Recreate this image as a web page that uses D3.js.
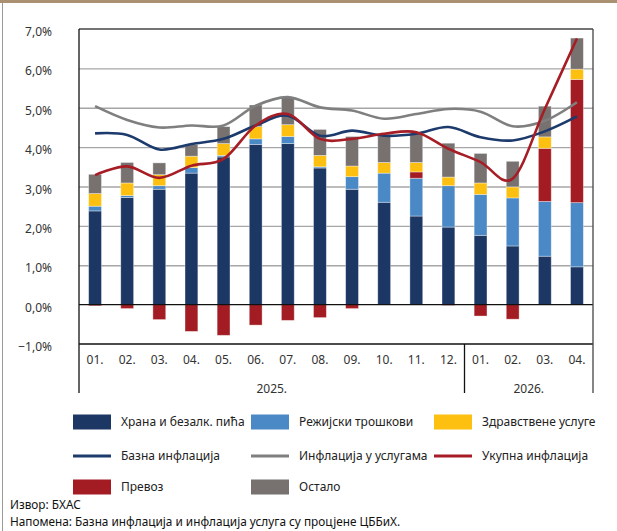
<!DOCTYPE html>
<html>
  <head>
    <meta charset="utf-8">
    <title>Инфлација по компонентама</title>
    <script src="https://d3js.org/d3.v7.min.js"></script>
    <style>
      body { margin: 0; background: #fff; }
      svg text { font-family: "Noto Sans", "DejaVu Sans", sans-serif; fill: #333; }
      .tick text { font-size: 12px; }
      .legend text { font-size: 12px; fill: #222; }
      .note { font-size: 11.8px; fill: #111; }
    </style>
  </head>
  <body>
    <script>
      var width = 617;
      var height = 531;
      var margin = {top: 29, left: 79, right: 24, bottom: 187};

      // data (percentage points)
      var months = ["01.","02.","03.","04.","05.","06.","07.","08.","09.","10.","11.","12.","01.","02.","03.","04."];
      var years = [{label: "2025.", count: 12}, {label: "2026.", count: 4}];
      var food      = [2.38, 2.72, 2.93, 3.34, 3.75, 4.07, 4.09, 3.47, 2.93, 2.60, 2.25, 1.97, 1.76, 1.49, 1.23, 0.96];
      var utilities = [0.12, 0.05, 0.09, 0.14, 0.04, 0.14, 0.18, 0.03, 0.32, 0.74, 0.96, 1.05, 1.04, 1.22, 1.39, 1.63];
      var transport = [-0.03, -0.10, -0.38, -0.68, -0.78, -0.52, -0.40, -0.33, -0.10, 0.00, 0.16, -0.02, -0.29, -0.37, 1.35, 3.13];
      var health    = [0.32, 0.32, 0.28, 0.29, 0.30, 0.31, 0.30, 0.29, 0.27, 0.27, 0.24, 0.22, 0.29, 0.28, 0.29, 0.26];
      var other     = [0.49, 0.52, 0.30, 0.30, 0.43, 0.55, 0.70, 0.66, 0.75, 0.67, 0.73, 0.86, 0.75, 0.65, 0.78, 0.79];
      var core      = [4.35, 4.31, 3.94, 4.08, 4.21, 4.55, 4.80, 4.29, 4.42, 4.29, 4.34, 4.51, 4.25, 4.17, 4.40, 4.78];
      var services  = [5.04, 4.69, 4.50, 4.55, 4.55, 5.05, 5.27, 5.01, 4.93, 4.72, 4.84, 4.97, 4.90, 4.53, 4.67, 5.14];
      var total     = [3.29, 3.51, 3.22, 3.53, 3.70, 4.55, 4.84, 4.21, 4.21, 4.34, 4.38, 3.96, 3.62, 3.20, 4.97, 6.76];
      var yTicks = [-1, 0, 1, 2, 3, 4, 5, 6, 7];

      var barSeries = [
        {key: "food", name: "Храна и безалк. пића", values: food, color: "#1c3764"},
        {key: "utilities", name: "Режијски трошкови", values: utilities, color: "#4a89c5"},
        {key: "transport", name: "Превоз", values: transport, color: "#a31c24"},
        {key: "health", name: "Здравствене услуге", values: health, color: "#fdc010"},
        {key: "other", name: "Остало", values: other, color: "#777270"}
      ];
      var lineSeries = [
        {name: "Инфлација у услугама", values: services, color: "#7f7f7f"},
        {name: "Базна инфлација", values: core, color: "#1c3a6c"},
        {name: "Укупна инфлација", values: total, color: "#a71d25"}
      ];

      var svg = d3.select("body")
        .append("svg")
        .attr("width", width)
        .attr("height", height);

      // page decoration
      svg.append("rect").attr("x", 0).attr("y", 0).attr("width", width).attr("height", 3).attr("fill", "#a89070");
      svg.append("line").attr("x1", 2.5).attr("x2", 2.5).attr("y1", 3).attr("y2", height)
        .attr("stroke", "#999").attr("stroke-width", 1);

      var idx = d3.range(months.length);
      var xScale = d3.scaleBand()
        .domain(idx)
        .range([margin.left, width - margin.right])
        .paddingInner(0.6)
        .paddingOuter(0.3);

      var yScale = d3.scaleLinear()
        .domain([-1, 7])
        .range([344, margin.top]);

      // grid
      var grid = svg.append("g")
        .attr("transform", `translate(${margin.left},0)`)
        .call(d3.axisLeft(yScale).tickValues(yTicks.filter(function(t){ return t > -1 && t < 7 && t != 0; }))
          .tickSize(-(width - margin.left - margin.right)).tickFormat(""));
      grid.select(".domain").remove();
      grid.selectAll("line").attr("stroke", "#a6a6a6").attr("stroke-width", 1.3);

      // y labels
      var yAxis = svg.append("g")
        .attr("transform", `translate(${margin.left},0)`)
        .call(d3.axisLeft(yScale).tickValues(yTicks).tickSize(0).tickPadding(27)
          .tickFormat(function(d){ return d3.format(".1f")(d).replace(".", ",") + "%"; }));
      yAxis.select(".domain").remove();
      yAxis.selectAll("text").attr("dy", "0.55em").style("font-family", "Noto Sans");

      // stacked bars
      var table = idx.map(function(i) {
        var row = {i: i};
        barSeries.forEach(function(s){ row[s.key] = s.values[i]; });
        return row;
      });
      var stack = d3.stack()
        .keys(barSeries.map(function(s){ return s.key; }))
        .offset(d3.stackOffsetDiverging);
      var layers = stack(table);

      svg.append("g").selectAll("g")
        .data(layers)
        .join("g")
          .attr("fill", function(d, k){ return barSeries[k].color; })
        .selectAll("rect")
        .data(function(d){ return d; })
        .join("rect")
          .attr("x", function(d){ return xScale(d.data.i); })
          .attr("width", xScale.bandwidth())
          .attr("y", function(d){ return yScale(Math.max(d[0], d[1])); })
          .attr("height", function(d){ return Math.abs(yScale(d[0]) - yScale(d[1])); })
          .attr("stroke", "#ffffff")
          .attr("stroke-opacity", 0.45)
          .attr("stroke-width", 0.8);

      // zero line
      svg.append("line")
        .attr("x1", margin.left).attr("x2", width - margin.right)
        .attr("y1", yScale(0)).attr("y2", yScale(0))
        .attr("stroke", "#111").attr("stroke-width", 1.3);

      // lines
      var line = d3.line()
        .x(function(d, i){ return xScale(i) + xScale.bandwidth() / 2; })
        .y(function(d){ return yScale(d); })
        .curve(d3.curveCardinal.tension(0));

      svg.append("g").selectAll("path")
        .data(lineSeries)
        .join("path")
          .attr("d", function(s){ return line(s.values); })
          .attr("fill", "none")
          .attr("stroke", function(s){ return s.color; })
          .attr("stroke-width", 2.6);

      // frame
      var x0 = margin.left, x1 = width - margin.right, yb = yScale(-1);
      svg.append("line").attr("x1", x0).attr("x2", x1).attr("y1", margin.top).attr("y2", margin.top)
        .attr("stroke", "#444").attr("stroke-width", 1.3);
      svg.append("line").attr("x1", x0).attr("x2", x1).attr("y1", yb).attr("y2", yb)
        .attr("stroke", "#111").attr("stroke-width", 1.3);
      svg.append("line").attr("x1", x0).attr("x2", x0).attr("y1", margin.top).attr("y2", 393)
        .attr("stroke", "#111").attr("stroke-width", 1.3);
      svg.append("line").attr("x1", x1).attr("x2", x1).attr("y1", margin.top).attr("y2", 393)
        .attr("stroke", "#444").attr("stroke-width", 1.3);

      // month labels
      svg.append("g").selectAll("text")
        .data(months)
        .join("text")
          .attr("x", function(d, i){ return xScale(i) + xScale.bandwidth() / 2; })
          .attr("y", 364)
          .attr("text-anchor", "middle")
          .style("font-size", "12px")
          .text(function(d){ return d; });

      // year labels and separators
      var start = 0;
      years.forEach(function(yr, k) {
        var xa = k === 0 ? x0 : xScale(start) - xScale.step() * xScale.paddingInner() / 2;
        var end = start + yr.count;
        var xb = end >= months.length ? x1 : xScale(end) - xScale.step() * xScale.paddingInner() / 2;
        if (k > 0) {
          svg.append("line").attr("x1", xa).attr("x2", xa).attr("y1", yb).attr("y2", 393)
            .attr("stroke", "#111").attr("stroke-width", 1.3);
        }
        svg.append("text")
          .attr("x", (xa + xb) / 2)
          .attr("y", 393)
          .attr("text-anchor", "middle")
          .style("font-size", "12px")
          .text(yr.label);
        start = end;
      });

      // legend
      var legendItems = [
        {name: barSeries[0].name, color: barSeries[0].color, type: "box"},
        {name: barSeries[1].name, color: barSeries[1].color, type: "box"},
        {name: barSeries[3].name, color: barSeries[3].color, type: "box"},
        {name: lineSeries[1].name, color: lineSeries[1].color, type: "line"},
        {name: lineSeries[0].name, color: lineSeries[0].color, type: "line"},
        {name: lineSeries[2].name, color: lineSeries[2].color, type: "line"},
        {name: barSeries[2].name, color: barSeries[2].color, type: "box"},
        {name: barSeries[4].name, color: barSeries[4].color, type: "box"}
      ];
      var colX = [73, 251, 434];
      var rowY = [422, 456, 487];
      var legend = svg.append("g").attr("class", "legend");
      var item = legend.selectAll("g")
        .data(legendItems)
        .join("g")
          .attr("transform", function(d, i){ return `translate(${colX[i % 3]},${rowY[Math.floor(i / 3)]})`; });
      item.filter(function(d){ return d.type === "box"; })
        .append("rect")
          .attr("x", 0).attr("y", -7.5).attr("width", 38).attr("height", 15)
          .attr("fill", function(d){ return d.color; });
      item.filter(function(d){ return d.type === "line"; })
        .append("line")
          .attr("x1", 0).attr("x2", 38).attr("y1", 0).attr("y2", 0)
          .attr("stroke", function(d){ return d.color; })
          .attr("stroke-width", 3);
      item.append("text")
        .attr("x", 48)
        .attr("dy", "0.35em")
        .text(function(d){ return d.name; });

      svg.append("text").attr("class", "note").attr("x", 10).attr("y", 509).text("Извор: БХАС");
      svg.append("text").attr("class", "note").attr("x", 10).attr("y", 526)
        .text("Напомена: Базна инфлација и инфлација услуга су процјене ЦББиХ.");
    </script>
  </body>
</html>
